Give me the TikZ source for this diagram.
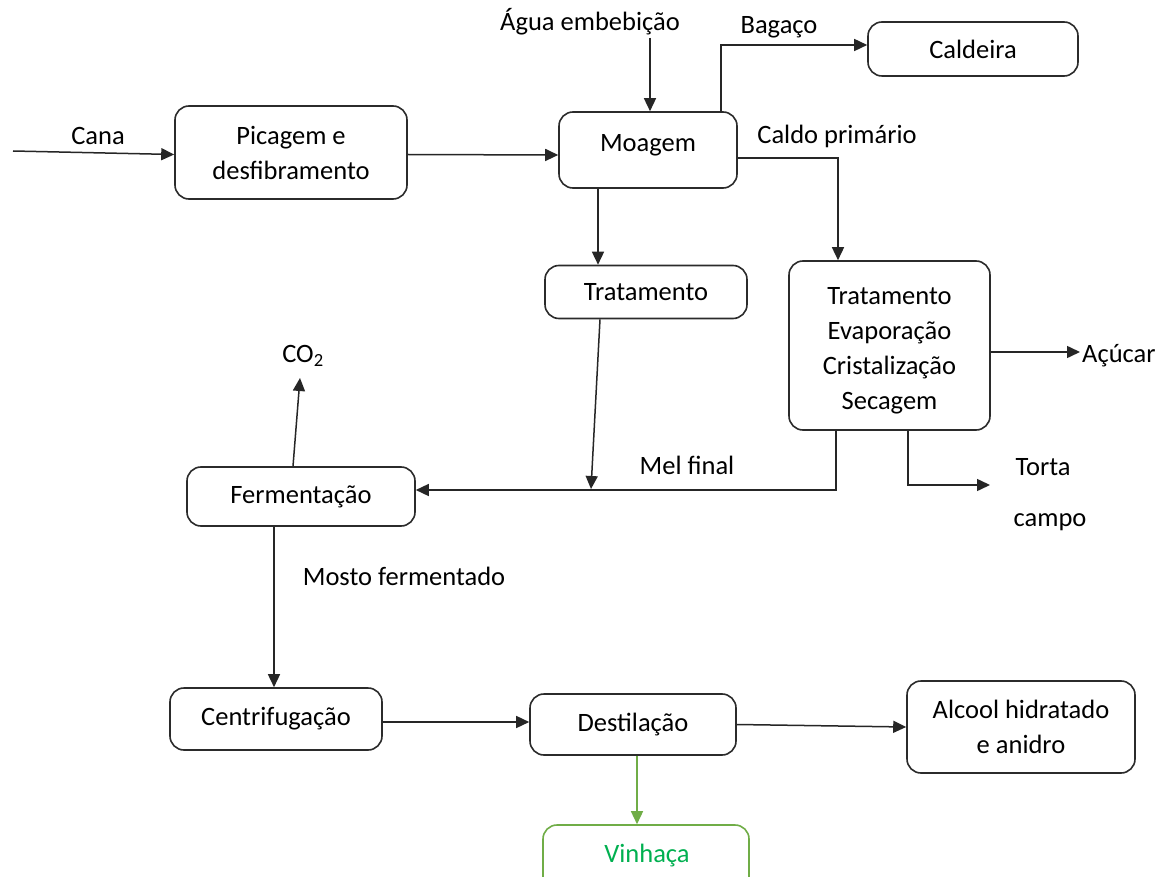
\documentclass[tikz,border=0pt]{standalone}
\usepackage{fontspec}
\setmainfont{Carlito}
\usetikzlibrary{arrows.meta}
\definecolor{lgreen}{HTML}{70AD47}
\definecolor{tgreen}{HTML}{00B050}
\definecolor{edge}{HTML}{2B2B2B}
\begin{document}
\begin{tikzpicture}[x=1pt,y=-1pt,
  font=\fontsize{26.5pt}{35pt}\selectfont,
  box/.style={draw=edge,line width=1.6pt,rounded corners=14pt,inner sep=0pt,align=center},
  lbl/.style={inner sep=2pt,align=center},
  arr/.style={line width=1.5pt,draw=black!85,-{Triangle[length=13pt,width=12pt]}}]
\clip (0,0) rectangle (1170,877);
\fill[white] (0,0) rectangle (1170,877);
% boxes
\node[box,minimum width=232pt,minimum height=93pt] (pic) at (291,152.5) {Picagem e\\desfibramento};
\node[box,minimum width=178pt,minimum height=76pt] (moa) at (648,150) {};
\node[lbl] (moat) at (648,145) {Moagem};
\node[box,minimum width=210pt,minimum height=54pt] (cal) at (973,49) {Caldeira};
\node[box,minimum width=202pt,minimum height=53pt] (tra) at (646,292) {Tratamento};
\node[box,minimum width=201pt,minimum height=169pt] (tec) at (889.5,345.5) {};
\node[lbl] (tect) at (889.5,351) {Tratamento\\Evaporação\\Cristalização\\Secagem};
\node[box,minimum width=228pt,minimum height=59pt] (fer) at (301,496.5) {Fermentação};
\node[box,minimum width=212pt,minimum height=62pt] (cen) at (276,719) {Centrifugação};
\node[box,minimum width=206pt,minimum height=61pt] (des) at (633,724.5) {Destilação};
\node[box,minimum width=228pt,minimum height=92pt] (alc) at (1021,727) {Alcool hidratado\\e anidro};
\node[box,draw=lgreen,minimum width=206pt,minimum height=90pt] (vin) at (646,870) {};
\node[lbl,text=tgreen] (vint) at (647,856) {Vinhaça};
% labels
\node[lbl] (cana) at (98,136) {Cana};
\node[lbl] (agua) at (590,22) {Água embebição};
\node[lbl] (bag) at (779,27) {Bagaço};
\node[lbl] (caldo) at (837,136) {Caldo primário};
\node[lbl,anchor=west] (acu) at (1080,356) {Açúcar};
\node[lbl] (torta) at (1043,467) {Torta};
\node[lbl] (campo) at (1050,522) {campo};
\node[lbl] (mel) at (687,465) {Mel final};
\node[lbl] (co2) at (303,356) {CO\textsubscript{2}};
\node[lbl] (mosto) at (404,576) {Mosto fermentado};
% coordinates
\coordinate (canain) at (13,151);
\coordinate (aguaout) at (650,38);
\coordinate (bagx) at (721,112);
\coordinate (tortaend) at (990,485);
\coordinate (meljoin) at (591,489);
\coordinate (co2end) at (300,378);
% connectors
\draw[arr] (canain) -- ([yshift=-2pt]pic.west);
\draw[arr] ([yshift=-2pt]pic.east) -- ([yshift=-5pt]moa.west);
\draw[arr] (aguaout) -- (aguaout |- moa.north);
\draw[arr] (bagx) |- ([yshift=4pt]cal.west);
\draw[arr] ([yshift=-8pt]moa.east) -| ([xshift=-51.5pt]tec.north);
\draw[arr] ([xshift=-50pt]moa.south) -- ([xshift=-50pt]moa.south |- tra.north);
\draw[arr] ([yshift=-6.5pt]tec.east) -- ([yshift=-6.5pt]tec.east -| acu.west);
\draw[arr] ([xshift=18.5pt]tec.south) |- (tortaend);
\draw[arr] ([xshift=-53.5pt]tec.south) |- ([yshift=6.5pt]fer.east);
\draw[arr] ([xshift=-46pt]tra.south) -- (meljoin);
\draw[arr] ([xshift=-8pt]fer.north) -- (co2end);
\draw[arr] ([xshift=-27pt]fer.south) -- ([xshift=-27pt]fer.south |- cen.north);
\draw[arr] ([yshift=-3pt]cen.east) -- ([yshift=-3pt]cen.east -| des.west);
\draw[arr] (des.east) -- (alc.west);
\draw[arr,draw=lgreen,fill=lgreen] ([xshift=4pt]des.south) -- ([xshift=4pt]des.south |- vin.north);
\end{tikzpicture}
\end{document}
